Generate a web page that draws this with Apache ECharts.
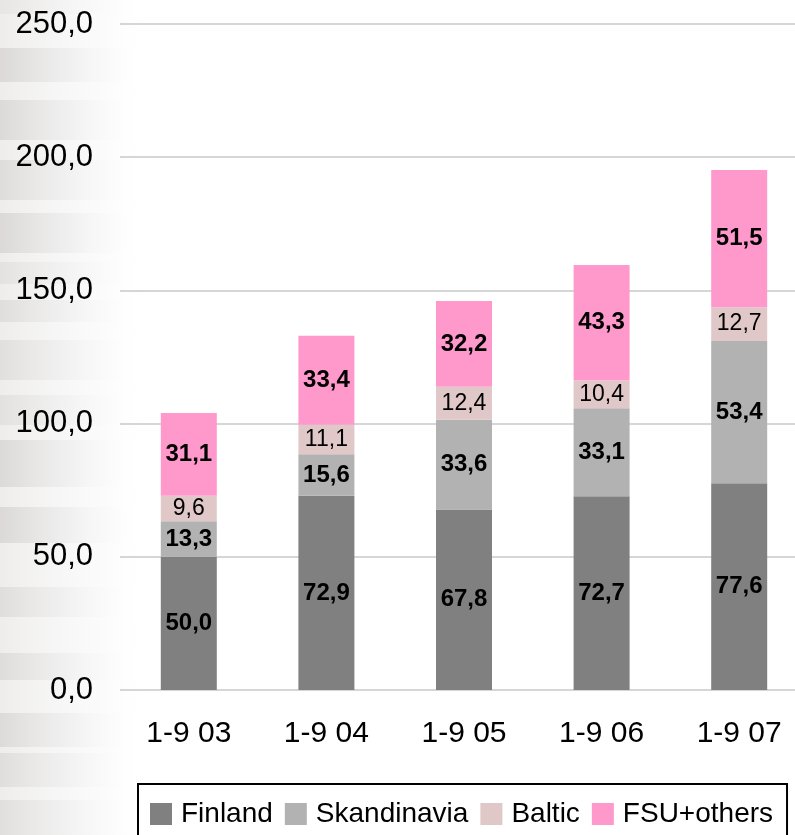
<!DOCTYPE html>
<html>
<head>
<meta charset="utf-8">
<script src="https://cdn.jsdelivr.net/npm/echarts@6/dist/echarts.min.js"></script>
<style>
  html, body { margin: 0; padding: 0; background: #fff; overflow: hidden; }
  #chart { width: 808px; height: 835px; }
</style>
</head>
<body>
<div id="chart"></div>
<script>
// Sales by market area, periods 1-9 of each year
const categories = ['1-9 03', '1-9 04', '1-9 05', '1-9 06', '1-9 07'];
const finland     = [50.0, 72.9, 67.8, 72.7, 77.6];
const skandinavia = [13.3, 15.6, 33.6, 33.1, 53.4];
const baltic      = [9.6, 11.1, 12.4, 10.4, 12.7];
const fsuOthers   = [31.1, 33.4, 32.2, 43.3, 51.5];
const yTicks = { min: 0, max: 250, interval: 50 };

// Soft horizontal bands down the left margin (decorative texture)
const bands = [
  [0, 14, 0.15], [48, 34, 0.4], [100, 40, 0.38], [160, 40, 0.32],
  [213, 40, 0.4], [262, 22, 0.22], [300, 22, 0.3], [340, 40, 0.28],
  [395, 30, 0.24], [440, 47, 0.38], [507, 36, 0.4], [587, 30, 0.3],
  [653, 27, 0.32], [713, 34, 0.36], [753, 34, 0.3], [800, 35, 0.28]
];

const fmt = p => p.value.toFixed(1).replace('.', ',');

const boldLabel = {
  show: true, position: 'inside', formatter: fmt,
  fontFamily: 'Liberation Sans, Arial, sans-serif', fontWeight: 'bold',
  fontSize: 24, color: '#000'
};
const lightLabel = {
  show: true, position: 'inside', formatter: fmt,
  fontFamily: 'Liberation Sans, Arial, sans-serif', fontWeight: 'normal',
  fontSize: 23, color: '#000'
};

function barSeries(name, data, color, label) {
  return {
    name, type: 'bar', stack: 'total', data, barWidth: 56,
    itemStyle: { color }, label,
    emphasis: { disabled: true }
  };
}

const chart = echarts.init(document.getElementById('chart'), null, { renderer: 'canvas' });

chart.setOption({
  animation: false,
  backgroundColor: '#fff',
  graphic: [{
    type: 'rect', silent: true, z: -11,
    shape: { x: 0, y: 0, width: 150, height: 835 },
    style: {
      fill: new echarts.graphic.LinearGradient(0, 0, 1, 0, [
        { offset: 0, color: 'rgba(225,222,220,0.55)' },
        { offset: 0.7, color: 'rgba(240,240,240,0.25)' },
        { offset: 1, color: 'rgba(255,255,255,0)' }
      ])
    }
  }].concat(bands.map(([y, h, a]) => ({
    type: 'rect', silent: true, z: -10,
    shape: { x: 0, y, width: 140, height: h },
    style: {
      fill: new echarts.graphic.LinearGradient(0, 0, 1, 0, [
        { offset: 0, color: `rgba(190,186,184,${a})` },
        { offset: 0.5, color: `rgba(210,210,210,${a * 0.5})` },
        { offset: 1, color: 'rgba(255,255,255,0)' }
      ])
    }
  }))),
  grid: { left: 120, top: 24, right: 0, bottom: 145, containLabel: false },
  legend: {
    left: 138, top: 784,
    data: ['Finland', 'Skandinavia', 'Baltic', 'FSU+others'],
    icon: 'rect', itemWidth: 22, itemHeight: 22, itemGap: 12,
    borderColor: '#000', borderWidth: 2, borderRadius: 0,
    padding: [16, 14, 30, 12],
    textStyle: {
      fontFamily: 'Liberation Sans, Arial, sans-serif',
      fontSize: 28, color: '#000', padding: [0, 0, 0, 4]
    },
    selectedMode: false
  },
  xAxis: {
    type: 'category', data: categories,
    axisLine: { show: false }, axisTick: { show: false },
    axisLabel: {
      margin: 29, color: '#000', fontSize: 30,
      fontFamily: 'Liberation Sans, Arial, sans-serif'
    }
  },
  yAxis: {
    type: 'value', min: yTicks.min, max: yTicks.max, interval: yTicks.interval,
    axisLine: { show: false }, axisTick: { show: false },
    splitLine: { lineStyle: { color: '#c8c8c8', width: 1.5 } },
    axisLabel: {
      margin: 27, color: '#000', fontSize: 31,
      fontFamily: 'Liberation Sans, Arial, sans-serif',
      formatter: v => v.toFixed(1).replace('.', ',')
    }
  },
  series: [
    barSeries('Finland', finland, '#808080', boldLabel),
    barSeries('Skandinavia', skandinavia, '#b2b2b2', boldLabel),
    barSeries('Baltic', baltic, '#e0c8c8', lightLabel),
    barSeries('FSU+others', fsuOthers, '#ff99cc', boldLabel)
  ]
});
</script>
</body>
</html>
